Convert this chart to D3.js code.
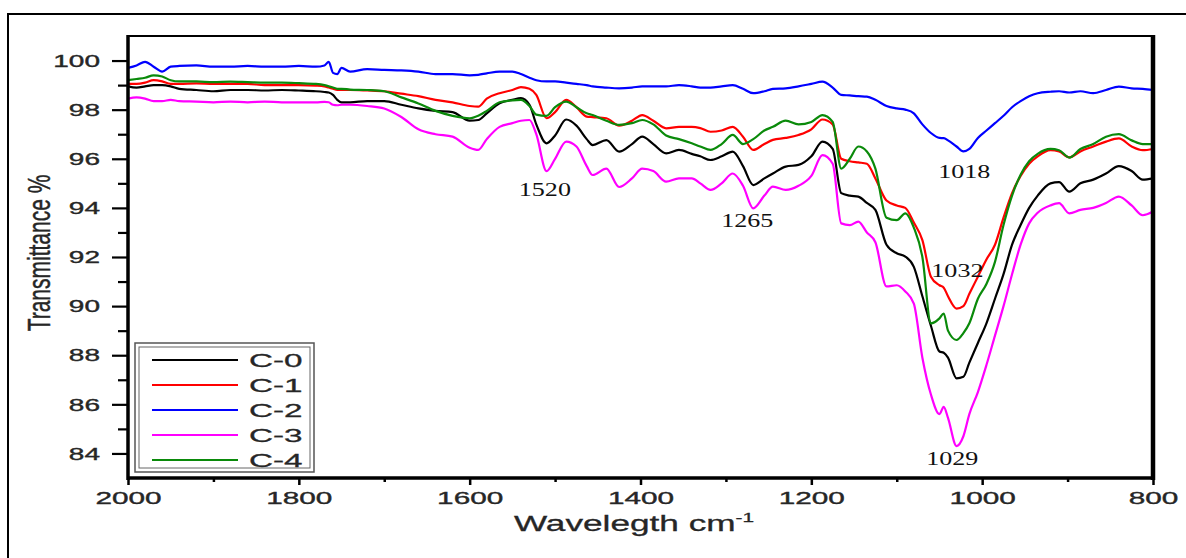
<!DOCTYPE html>
<html><head><meta charset="utf-8">
<script src="https://cdn.jsdelivr.net/npm/d3@7"></script>
<style>html,body{margin:0;padding:0;background:#fff;overflow:hidden}</style>
</head><body>
<svg id="chart" width="1186" height="558"></svg>
<script>
// ---------- DATA ----------
const wavenumbers = [2000,1990,1980,1970,1960,1950,1940,1920,1900,1880,1860,1840,1820,1800,1780,1770,1765,1760,1755,1750,1740,1720,1700,1680,1660,1640,1620,1600,1590,1580,1565,1550,1540,1530,1522,1510,1500,1487,1475,1463,1456,1440,1425,1410,1398,1385,1370,1355,1340,1330,1318,1305,1292,1280,1268,1255,1245,1230,1215,1200,1187,1175,1165,1155,1145,1135,1125,1112,1100,1090,1080,1070,1060,1050,1045,1040,1030,1022,1015,1005,995,985,975,965,955,945,935,920,910,898,885,870,855,840,825,812,800];
const C0 = [98.95,98.9,98.95,99.0,99.0,98.95,98.85,98.8,98.75,98.8,98.8,98.78,98.8,98.78,98.75,98.72,98.7,98.6,98.4,98.3,98.3,98.35,98.35,98.2,98.05,97.95,97.9,97.55,97.58,97.85,98.26,98.4,98.47,98.2,97.4,96.63,96.95,97.6,97.35,96.8,96.56,96.76,96.29,96.6,96.9,96.6,96.22,96.36,96.2,96.1,95.95,96.1,96.29,95.7,94.93,95.2,95.4,95.68,95.75,96.1,96.7,96.4,94.6,94.5,94.46,94.2,93.92,92.5,92.15,92.02,91.6,90.4,89.2,88.15,88.1,87.9,87.06,87.12,87.7,88.5,89.3,90.3,91.3,92.5,93.3,94.0,94.5,95.0,95.05,94.66,95.0,95.15,95.4,95.7,95.5,95.15,95.2];
const C1 = [99.05,99.05,99.1,99.2,99.15,99.05,99.05,99.07,99.05,99.05,99.05,99.0,99.0,99.0,98.98,98.95,98.9,98.85,98.8,98.8,98.8,98.78,98.75,98.65,98.55,98.4,98.3,98.15,98.12,98.45,98.67,98.8,98.92,98.85,98.6,97.65,97.9,98.4,98.1,97.72,97.7,97.65,97.35,97.55,97.78,97.55,97.24,97.3,97.3,97.25,97.1,97.15,97.3,96.9,96.36,96.6,96.77,96.85,96.97,97.2,97.6,97.4,96.0,95.9,95.85,95.8,95.2,94.3,94.1,94.0,93.4,92.69,91.2,90.85,90.75,90.4,89.9,90.0,90.5,91.2,91.9,92.5,93.6,94.6,95.3,95.8,96.1,96.35,96.3,96.06,96.3,96.5,96.7,96.83,96.5,96.35,96.4];
const C2 = [99.7,99.8,99.95,99.75,99.55,99.75,99.78,99.8,99.75,99.75,99.78,99.75,99.75,99.78,99.75,99.8,99.95,99.5,99.45,99.7,99.55,99.65,99.62,99.6,99.55,99.45,99.45,99.4,99.42,99.48,99.55,99.55,99.45,99.3,99.2,99.15,99.15,99.1,99.05,99.0,98.95,98.9,98.87,98.9,98.95,98.95,98.95,99.0,98.95,98.9,98.9,98.95,99.0,98.85,98.67,98.75,98.85,98.87,98.95,99.05,99.14,98.9,98.6,98.58,98.55,98.53,98.4,98.15,98.05,98.0,97.85,97.4,97.05,96.85,96.84,96.75,96.5,96.3,96.4,96.85,97.15,97.45,97.75,98.1,98.35,98.55,98.67,98.73,98.75,98.7,98.75,98.67,98.8,98.94,98.87,98.85,98.8];
const C3 = [98.45,98.5,98.45,98.35,98.35,98.4,98.35,98.33,98.3,98.33,98.3,98.33,98.3,98.3,98.3,98.32,98.3,98.2,98.18,98.2,98.2,98.15,98.05,97.7,97.2,97.0,96.9,96.45,96.36,96.8,97.3,97.45,97.55,97.58,97.0,95.5,96.0,96.7,96.5,95.7,95.34,95.6,94.85,95.2,95.6,95.5,95.07,95.2,95.2,95.0,94.73,95.0,95.4,94.9,93.98,94.5,94.87,94.73,94.9,95.3,96.15,95.8,93.37,93.3,93.44,93.0,92.6,90.8,90.85,90.6,90.1,87.9,86.4,85.6,85.9,85.45,84.3,84.7,85.6,86.5,87.6,88.8,90.0,91.3,92.5,93.37,93.8,94.1,94.19,93.78,93.92,94.0,94.2,94.46,94.1,93.7,93.85];
const C4 = [99.2,99.25,99.3,99.4,99.35,99.2,99.15,99.15,99.12,99.14,99.12,99.1,99.1,99.08,99.05,99.0,98.95,98.9,98.85,98.85,98.82,98.8,98.75,98.5,98.25,97.95,97.75,97.65,97.75,97.95,98.3,98.38,98.4,98.15,97.8,97.75,98.1,98.33,98.1,97.85,97.78,97.55,97.38,97.45,97.58,97.4,96.95,96.8,96.63,96.5,96.36,96.6,96.97,96.6,96.8,97.15,97.3,97.55,97.4,97.5,97.78,97.5,95.6,96.0,96.5,96.3,95.6,93.6,93.5,93.78,93.2,92.0,89.3,89.5,89.7,89.0,88.62,88.9,89.3,90.3,90.9,91.8,93.3,94.5,95.35,95.9,96.2,96.4,96.35,96.05,96.4,96.6,96.9,97.0,96.75,96.6,96.6];
const seriesNames = ["C-0","C-1","C-2","C-3","C-4"];
const seriesColors = ["#000000","#ff0000","#0000ff","#ff00ff","#0a8a0a"];
const yMajorTicks = [84,86,88,90,92,94,96,98,100];
const yMinorTicks = [85,87,89,91,93,95,97,99];
const xMajorTicks = [2000,1800,1600,1400,1200,1000,800];
const xMinorTicks = [1900,1700,1500,1300,1100,900];
const peakLabels = ["1520","1265","1018","1032","1029"];
const peakWn = [1512,1275,1021,1029,1035];
const peakVal = [94.49,93.22,95.22,91.19,83.53];

// ---------- LAYOUT ----------
const svg = d3.select("#chart");
const pL = 128, pR = 1153, pT = 36, pB = 478;
const x = d3.scaleLinear().domain([2000, 800]).range([pL, pR]);
const y = d3.scaleLinear().domain([83, 101]).range([pB, pT]);
const SX = 1.75; // horizontal stretch of the original picture's text
const font = "'Liberation Sans', Arial, sans-serif";
const ink = "#262626";

// outer frame
svg.append("path").attr("d", `M8,558 L8,14 L1186,14`).attr("fill","none").attr("stroke","#000").attr("stroke-width",2);

// plot frame top
svg.append("line").attr("x1",pL).attr("x2",pR).attr("y1",pT).attr("y2",pT).attr("stroke","#000").attr("stroke-width",2);

// series
const seriesData = [C0,C1,C2,C3,C4];
const line = d3.line().x(d => x(d[0])).y(d => y(d[1])).curve(d3.curveMonotoneX);
seriesData.forEach((vals, i) => {
  const pts = wavenumbers.map((w, k) => [w, vals[k]]);
  svg.append("path").datum(pts).attr("d", line).attr("fill","none")
     .attr("stroke", seriesColors[i]).attr("stroke-width", 2.2).attr("stroke-linejoin","round");
});

// right axis line (thick)
svg.append("line").attr("x1",pR).attr("x2",pR).attr("y1",pT-1).attr("y2",pB+2).attr("stroke","#000").attr("stroke-width",4.5);

// y axis
const gyMinor = svg.append("g").attr("transform",`translate(${pL},0)`)
  .call(d3.axisLeft(y).tickValues(yMinorTicks).tickSize(10).tickSizeOuter(0).tickFormat(""));
gyMinor.select(".domain").remove();
gyMinor.selectAll("line").attr("stroke-width",2.2);
const gy = svg.append("g").attr("transform",`translate(${pL},0)`)
  .call(d3.axisLeft(y).tickValues(yMajorTicks).tickSize(16).tickSizeOuter(0).tickFormat(d3.format("d")));
gy.select(".domain").attr("stroke-width",3.5).attr("d",`M0,${pT-1}V${pB+2}`);
gy.selectAll(".tick line").attr("stroke-width",2.2);
gy.selectAll(".tick text").attr("x",null).attr("dy","0.36em")
  .attr("transform",`translate(-28,0) scale(${SX},1)`)
  .attr("text-anchor","end").attr("font-family",font).attr("font-size",16)
  .attr("fill",ink).attr("stroke",ink).attr("stroke-width",0.35);

// x axis
const gxMinor = svg.append("g").attr("transform",`translate(0,${pB})`)
  .call(d3.axisBottom(x).tickValues(xMinorTicks).tickSize(4).tickSizeOuter(0).tickFormat(""));
gxMinor.select(".domain").remove();
gxMinor.selectAll("line").attr("stroke-width",2.5);
const gx = svg.append("g").attr("transform",`translate(0,${pB})`)
  .call(d3.axisBottom(x).tickValues(xMajorTicks).tickSize(7).tickSizeOuter(0).tickFormat(d3.format("d")));
gx.select(".domain").attr("stroke-width",3.5).attr("d",`M${pL-1},0H${pR+2}`);
gx.selectAll(".tick line").attr("stroke-width",2.5);
gx.selectAll(".tick text").attr("y",null).attr("dy","0.71em")
  .attr("transform",`translate(0,14) scale(${SX},1)`)
  .attr("font-family",font).attr("font-size",17)
  .attr("fill",ink).attr("stroke",ink).attr("stroke-width",0.35);

// axis titles
const xt = svg.append("text").attr("transform",`translate(634,531) scale(1.6,1)`)
  .attr("text-anchor","middle").attr("font-family",font).attr("font-size",22)
  .attr("fill",ink).attr("stroke",ink).attr("stroke-width",0.3);
xt.append("tspan").text("Wavelegth cm");
xt.append("tspan").attr("dy",-9).attr("font-size",13).text("-1");

svg.append("text").attr("transform",`translate(39,253) scale(1.45,1) rotate(-90)`)
  .attr("text-anchor","middle").attr("dy","0.35em").attr("font-family",font).attr("font-size",21)
  .attr("fill",ink).attr("stroke",ink).attr("stroke-width",0.3)
  .text("Transmittance %");

// peak labels
peakLabels.forEach((t, i) => {
  svg.append("text").attr("transform",`translate(${x(peakWn[i])},${y(peakVal[i])}) scale(1.45,1)`)
    .attr("text-anchor","middle").attr("font-family","'Liberation Serif','Times New Roman',serif")
    .attr("font-size",18).attr("fill","#111").text(t);
});

// legend
const lg = svg.append("g");
lg.append("rect").attr("x",135).attr("y",343).attr("width",179).attr("height",129).attr("fill","#fff").attr("stroke","#555").attr("stroke-width",1.5);
lg.append("rect").attr("x",139).attr("y",347).attr("width",171).attr("height",121).attr("fill","none").attr("stroke","#666").attr("stroke-width",1);
seriesNames.forEach((n, i) => {
  const yy = 360 + i * 25;
  lg.append("line").attr("x1",152).attr("x2",238).attr("y1",yy).attr("y2",yy).attr("stroke",seriesColors[i]).attr("stroke-width",2.2);
  lg.append("text").attr("transform",`translate(249,${yy}) scale(${SX},1)`).attr("dy","0.36em")
    .attr("font-family",font).attr("font-size",19)
    .attr("fill",ink).attr("stroke",ink).attr("stroke-width",0.3).text(n);
});
</script>
</body></html>
